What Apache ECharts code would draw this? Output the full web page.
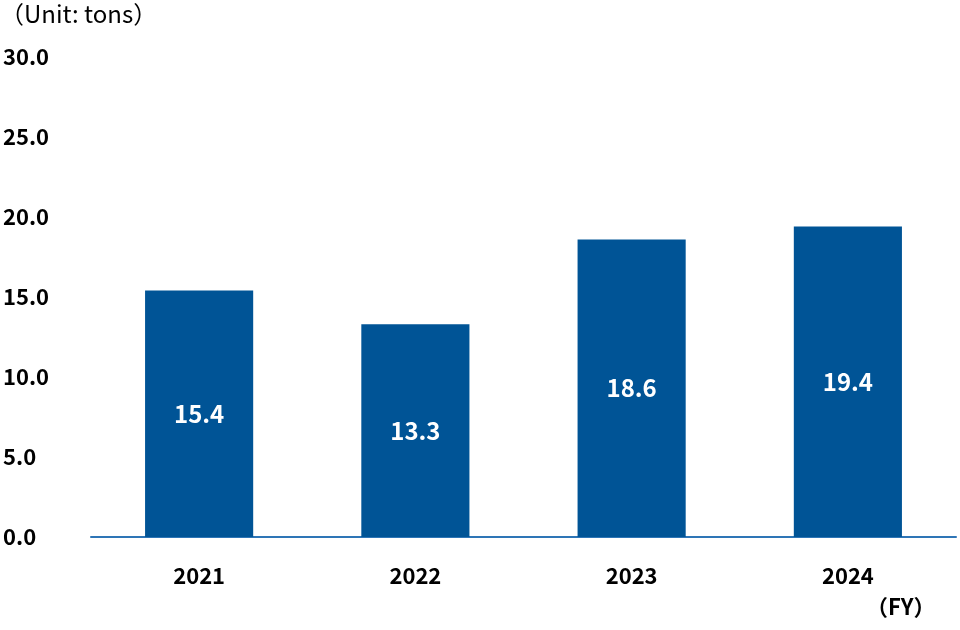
<!DOCTYPE html>
<html>
<head>
<meta charset="utf-8">
<script src="https://cdn.jsdelivr.net/npm/echarts@6/dist/echarts.min.js"></script>
<style>html,body{margin:0;padding:0;background:#fff}#chart{width:960px;height:630px}</style>
</head>
<body>
<div id="chart"></div>
<script>
var years = ['2021', '2022', '2023', '2024'];
var tons = [15.4, 13.3, 18.6, 19.4];

var font = '"Noto Sans CJK JP", "Noto Sans", sans-serif';
var chart = echarts.init(document.getElementById('chart'));
chart.setOption({
    animation: false,
    textStyle: { fontFamily: font },
    grid: { left: 88, right: 4, top: 57, bottom: 93 },
    graphic: [
        { type: 'text', left: 0, top: 2, style: { text: '（Unit: tons）', font: '24px ' + font, fill: '#000' } },
        { type: 'text', left: 866, top: 596, style: { text: '（FY）', font: 'bold 22px ' + font, fill: '#000' } }
    ],
    xAxis: {
        type: 'category',
        data: years,
        axisLine: { lineStyle: { color: '#2e75b6', width: 2 } },
        axisTick: { show: false },
        axisLabel: { color: '#000', fontSize: 22, fontWeight: 'bold', margin: 28, fontFamily: font }
    },
    yAxis: {
        type: 'value',
        min: 0, max: 30, interval: 5,
        splitLine: { show: false },
        axisLabel: {
            color: '#000', fontSize: 22, fontWeight: 'bold', fontFamily: font,
            align: 'left', margin: 88,
            formatter: function (v) { return v.toFixed(1); }
        }
    },
    series: [{
        type: 'bar',
        data: tons,
        barWidth: '50%',
        itemStyle: { color: '#005496' },
        label: {
            show: true, position: 'inside', color: '#fff', fontSize: 24, fontWeight: 'bold', fontFamily: font,
            formatter: function (p) { return p.value.toFixed(1); }
        }
    }]
});
</script>
</body>
</html>
